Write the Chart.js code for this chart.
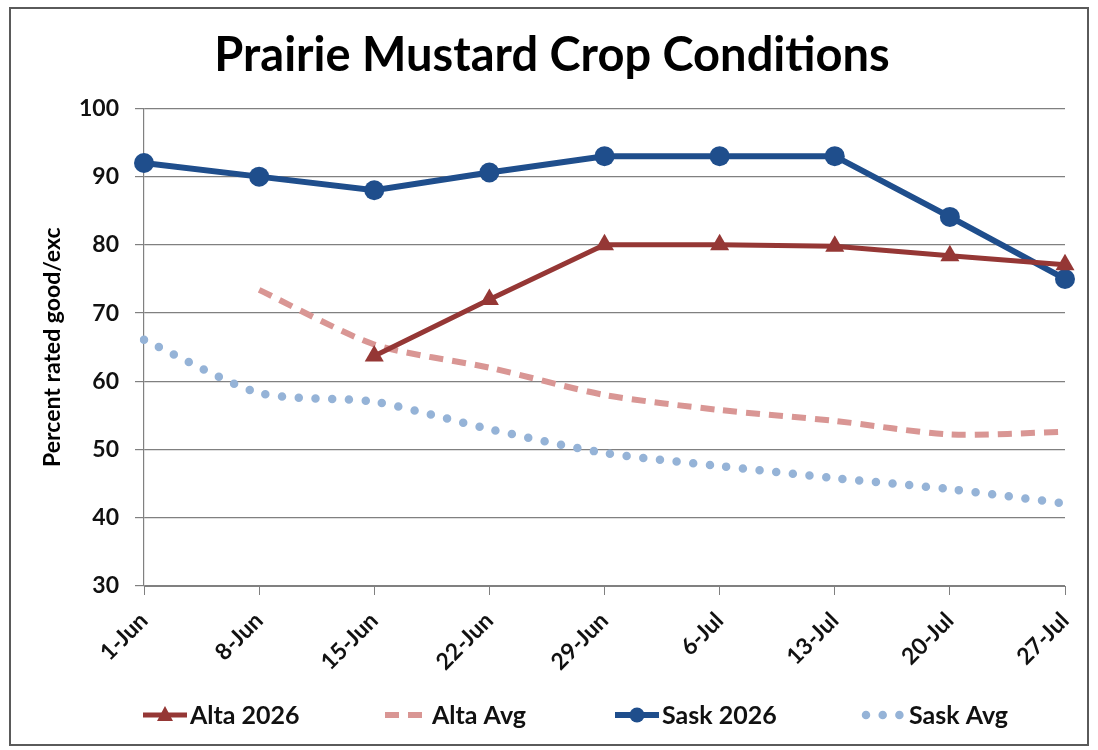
<!DOCTYPE html>
<html lang="en">
<head>
  <meta charset="UTF-8">
  <title>Prairie Mustard Crop Conditions</title>
  <script src="https://cdn.jsdelivr.net/npm/chart.js"></script>
  <style>
    body { margin: 0; background: #fff; }
    #box { position: absolute; left: 9px; top: 7px; width: 1076px; height: 735px; border: 2px solid #5a5a5a; }
  </style>
</head>
<body>
  <div id="box"><canvas id="chart" width="1076" height="735"></canvas></div>
<script>
  const weeks = ['1-Jun', '8-Jun', '15-Jun', '22-Jun', '29-Jun', '6-Jul', '13-Jul', '20-Jul', '27-Jul']
  const alta2026 = [null, null, 63.7, 72, 80, 80, 79.8, 78.4, 77.1]
  const altaAvg = [null, 73.4, 65.4, 62, 58, 55.8, 54.2, 52.2, 52.6]
  const sask2026 = [92, 90, 88, 90.6, 93, 93, 93, 84.1, 75]
  const saskAvg = [66.1, 58.3, 57, 53, 49.5, 47.6, 45.8, 44.2, 42.1]

  const FONT = 'Lato, "Open Sans", sans-serif'

  // legend drawn by hand so the line samples look like the Excel ones
  const legendPlugin = {
    id: 'bottomLegend',
    afterDraw(chart) {
      const ctx = chart.ctx
      const y = 706
      const xs = [132, 374, 604, 851]
      ctx.save()
      chart.data.datasets.forEach((ds, i) => {
        const x = xs[i]
        ctx.strokeStyle = ds.borderColor
        ctx.lineWidth = ds.borderWidth
        ctx.lineCap = ds.borderCapStyle || 'butt'
        ctx.setLineDash(ds.borderDash || [])
        ctx.beginPath()
        if (ds.borderDash && ds.borderDash[0] === 0) {
          ctx.moveTo(x + 4, y); ctx.lineTo(x + 42, y)
        } else {
          ctx.moveTo(x, y); ctx.lineTo(x + 44, y)
        }
        ctx.stroke()
        ctx.setLineDash([])
        ctx.fillStyle = ds.pointBackgroundColor || ds.borderColor
        if (ds.pointStyle === 'triangle') {
          ctx.beginPath()
          ctx.moveTo(x + 22, y - 9); ctx.lineTo(x + 30, y + 6); ctx.lineTo(x + 14, y + 6)
          ctx.closePath(); ctx.fill()
        } else if (ds.pointStyle === 'circle' && ds.pointRadius > 0) {
          ctx.beginPath(); ctx.arc(x + 22, y, 7.5, 0, Math.PI * 2); ctx.fill()
        }
        ctx.fillStyle = '#111'
        ctx.font = 'bold 25px ' + FONT
        ctx.textBaseline = 'middle'
        ctx.fillText(ds.label, x + 47, y + 1)
      })
      ctx.restore()
    }
  }

  new Chart(document.getElementById('chart'), {
    type: 'line',
    data: {
      labels: weeks,
      datasets: [
        {
          label: 'Alta 2026', data: alta2026,
          borderColor: '#953735', pointBackgroundColor: '#953735', borderWidth: 5,
          pointStyle: 'triangle', pointRadius: 11, pointBorderWidth: 0, tension: 0
        },
        {
          label: 'Alta Avg', data: altaAvg,
          borderColor: '#d99694', borderWidth: 6, borderDash: [14, 9],
          pointRadius: 0, tension: 0.25
        },
        {
          label: 'Sask 2026', data: sask2026,
          borderColor: '#1f4e8c', pointBackgroundColor: '#1f4e8c', borderWidth: 6,
          pointStyle: 'circle', pointRadius: 10, pointBorderWidth: 0, tension: 0
        },
        {
          label: 'Sask Avg', data: saskAvg,
          borderColor: '#95b3d7', borderWidth: 8.5, borderDash: [0, 16.7], borderCapStyle: 'round',
          pointRadius: 0, tension: 0.25
        }
      ]
    },
    options: {
      responsive: false,
      animation: false,
      layout: { padding: { top: 0, left: 28, right: 22, bottom: 0 } },
      plugins: {
        legend: { display: false },
        tooltip: { enabled: false },
        title: {
          display: true,
          text: 'Prairie Mustard Crop Conditions',
          color: '#000',
          font: { family: FONT, size: 47, weight: 'bold', lineHeight: 1.2 },
          padding: { top: 19, bottom: 24 }
        }
      },
      scales: {
        x: {
          offset: false,
          afterFit(scale) { scale.height = 158; scale.paddingRight = 0 },
          grid: { drawOnChartArea: false, drawTicks: true, tickLength: 9, color: '#808080' },
          border: { display: true, color: '#808080', width: 1 },
          ticks: {
            color: '#111', autoSkip: false, minRotation: 45, maxRotation: 45, padding: 12,
            font: { family: FONT, size: 23, weight: 'bold' }
          }
        },
        y: {
          min: 30, max: 100,
          afterFit(scale) { scale.width = 105 },
          grid: { color: '#808080', lineWidth: 1.2, tickLength: 9 },
          border: { display: true, color: '#808080', width: 1.2 },
          ticks: {
            stepSize: 10, color: '#111', padding: 16,
            font: { family: FONT, size: 23, weight: 'bold' }
          },
          title: {
            display: true,
            text: 'Percent rated good/exc',
            color: '#000',
            font: { family: FONT, size: 23, weight: 'bold' },
            padding: { top: 0, bottom: 0 }
          }
        }
      }
    },
    plugins: [legendPlugin]
  })
</script>
</body>
</html>
